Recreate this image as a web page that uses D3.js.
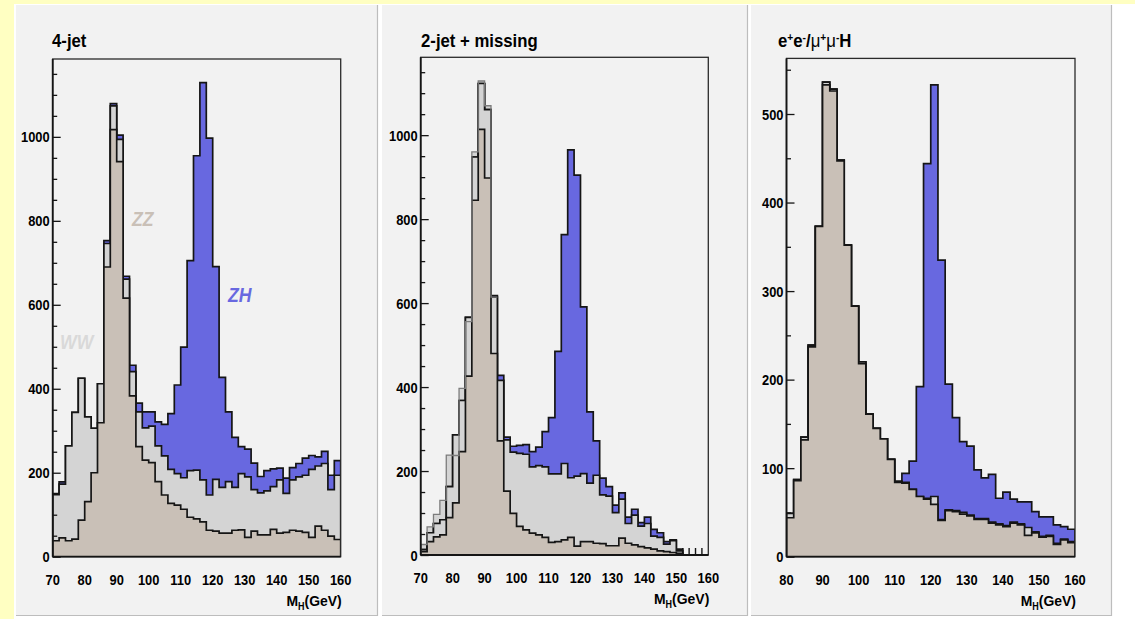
<!DOCTYPE html>
<html>
<head>
<meta charset="utf-8">
<script src="https://cdn.jsdelivr.net/npm/d3@7"></script>
<style>
  html, body { margin: 0; padding: 0; background: #ffffc2; }
  svg { display: block; }
  text { font-family: "Liberation Sans", Arial, sans-serif; font-weight: bold; }
</style>
</head>
<body>
<svg id="chart" width="1135" height="619"></svg>
<script>
// ---- shared binning ----
const binWidth = 2; // GeV per bin

// ---- 4-jet channel (70-160 GeV) : per-process contributions, stacked ZZ -> WW -> ZH ----
const jet4Range = [70, 160];
const jet4ZZ = [38,45,38,42,87,131,200,319,690,1017,941,616,383,262,230,224,179,147,127,123,113,94,90,83,63,61,56,56,63,64,46,61,52,52,65,56,58,63,61,58,46,73,63,49,41];
const jet4WW = [110,128,226,302,338,202,106,93,56,57,53,45,58,83,77,87,85,93,81,75,75,111,116,100,84,123,109,123,102,134,144,99,100,105,102,127,93,120,129,136,162,143,159,111,153];
const jet4ZH = [2,5,0,0,0,0,0,0,7,5,10,7,15,21,38,34,57,75,133,211,311,500,749,946,850,507,262,166,119,64,66,63,39,48,42,28,36,29,32,41,33,22,29,34,35];

// ---- 2-jet + missing channel (70-160 GeV) ----
const missRange = [70, 160];
const missZZ = [8,32,43,48,89,124,246,426,845,1014,898,480,272,152,99,68,60,52,48,42,30,32,36,42,21,32,32,28,27,22,22,40,28,24,20,17,14,10,8,6,4,0,0,0,0];
const missWW = [5,21,32,36,74,162,122,140,103,109,163,134,144,122,146,174,180,158,165,168,163,161,182,142,167,162,139,162,116,118,79,93,47,71,49,58,31,32,18,28,6,0,0,0,0];
const missZH = [0,0,0,0,0,0,0,0,0,0,0,4,12,7,14,19,23,36,44,84,134,292,545,781,717,397,170,82,40,23,18,15,15,14,8,15,16,11,6,2,4,0,0,0,0];
// second background sum in the low-mass bins (70-94 GeV), drawn with a grey outline
const missAltSum = [25,67,97,130,238,237,397,556,960,1129,1070,614];

// ---- e+e- / mu+mu- H channel (80-160 GeV) ----
const llRange = [80, 160];
const llZZ = [44,86,132,237,373,533,526,447,352,283,218,161,145,133,110,84,83,76,68,65,59,41,52,51,48,46,42,42,38,36,34,38,36,24,27,22,23,14,19,16];
const llWW = [5,1,3,2,0,3,2,1,0,0,2,0,0,0,0,1,1,0,0,1,9,1,1,1,2,1,1,1,1,1,1,1,1,9,1,1,1,1,1,1];
const llZH = [0,0,0,0,0,0,0,0,0,0,0,0,0,0,0,0,10,32,124,378,465,293,142,105,80,78,55,46,54,29,38,26,25,29,23,22,21,21,14,14];

// ---- axis labels ----
const xTicksWide = [70, 80, 90, 100, 110, 120, 130, 140, 150, 160];
const xTicksLL = [80, 90, 100, 110, 120, 130, 140, 150, 160];
const yTicksJet = [0, 200, 400, 600, 800, 1000];
const yTicksLL = [0, 100, 200, 300, 400, 500];
const minorStep = 50;

// ---- colours ----
const colZZ = "#c9c0b7";
const colWW = "#d4d4d4";
const colZH = "#6868e0";
const colWWLabel = "#d9d9d9";
const colLine = "#151515";
const squeeze = 0.86;

const svg = d3.select("#chart");

// pad backgrounds
svg.append("rect").attr("x", 14).attr("y", 4).attr("width", 1121).attr("height", 615).attr("fill", "#ffffff");
const pads = [
  { x: 16, w: 362 },
  { x: 382, w: 366 },
  { x: 751, w: 361 }
];
pads.forEach(p => {
  svg.append("rect").attr("x", p.x).attr("y", 5).attr("width", p.w).attr("height", 611).attr("fill", "#f2f2f2");
  svg.append("line").attr("x1", p.x + p.w - 0.5).attr("x2", p.x + p.w - 0.5).attr("y1", 5).attr("y2", 616)
    .attr("stroke", "#bdbdbd").attr("stroke-width", 1.2);
  svg.append("line").attr("x1", p.x).attr("x2", p.x + p.w).attr("y1", 615.5).attr("y2", 615.5)
    .attr("stroke", "#bdbdbd").attr("stroke-width", 1.2);
});

function squeezedText(g, x, y, size, sq) {
  return g.append("text")
    .attr("transform", `translate(${x},${y}) scale(${sq || squeeze},1)`)
    .attr("font-size", size);
}

function stepPoints(vals, lo) {
  const pts = vals.map((v, i) => [lo + i * binWidth, v]);
  pts.push([lo + vals.length * binWidth, vals[vals.length - 1]]);
  return pts;
}

function cumulative(layers) {
  const out = [];
  let run = layers[0].map(() => 0);
  layers.forEach(l => {
    run = run.map((r, i) => r + l[i]);
    out.push(run.slice());
  });
  return out;
}

function drawPanel(cfg) {
  const g = svg.append("g");
  const x = d3.scaleLinear().domain(cfg.range).range([cfg.left, cfg.right]);
  const [sZZ, sWW, sAll] = cumulative([cfg.zz, cfg.ww, cfg.zh]);
  const peak = d3.max([...sAll, ...(cfg.alt || [])]);
  const y = d3.scaleLinear().domain([0, peak * 1.05]).range([cfg.bottom, cfg.top]);

  const clipId = "clip" + cfg.id;
  svg.append("clipPath").attr("id", clipId).append("rect")
    .attr("x", cfg.left).attr("y", cfg.top)
    .attr("width", cfg.right - cfg.left).attr("height", cfg.bottom - cfg.top);
  const plot = g.append("g").attr("clip-path", `url(#${clipId})`);

  const area = d3.area().x(d => x(d[0])).y0(y(0)).y1(d => y(d[1])).curve(d3.curveStepAfter);
  const line = d3.line().x(d => x(d[0])).y(d => y(d[1])).curve(d3.curveStepAfter);
  const outline = (vals) => {
    const pts = stepPoints(vals, cfg.range[0]);
    return [[cfg.range[0], 0], ...pts, [pts[pts.length - 1][0], 0]];
  };

  if (cfg.alt) {
    plot.append("path").attr("d", area(stepPoints(cfg.alt, cfg.range[0]))).attr("fill", colWW);
  }
  [[sAll, colZH], [sWW, colWW], [sZZ, colZZ]].forEach(([vals, col]) => {
    plot.append("path").attr("d", area(stepPoints(vals, cfg.range[0]))).attr("fill", col);
    plot.append("path").attr("d", line(outline(vals)))
      .attr("fill", "none").attr("stroke", colLine).attr("stroke-width", 1.7);
  });
  if (cfg.alt) {
    plot.append("path").attr("d", line([[cfg.range[0], 0], ...stepPoints(cfg.alt, cfg.range[0])]))
      .attr("fill", "none").attr("stroke", "#7c7c7c").attr("stroke-width", 1.3);
  }
  // short edge marks for empty bins
  sAll.forEach((v, i) => {
    if (v === 0) {
      const xe = x(cfg.range[0] + i * binWidth);
      plot.append("line").attr("x1", xe).attr("x2", xe).attr("y1", y(0)).attr("y2", y(0) - 7)
        .attr("stroke", colLine).attr("stroke-width", 1.4);
    }
  });

  // frame
  g.append("rect").attr("x", cfg.left).attr("y", cfg.top)
    .attr("width", cfg.right - cfg.left).attr("height", cfg.bottom - cfg.top)
    .attr("fill", "none").attr("stroke", "#2a2a2a").attr("stroke-width", 1.3);
  g.append("line").attr("x1", cfg.left).attr("x2", cfg.left).attr("y1", cfg.top).attr("y2", cfg.bottom)
    .attr("stroke", colLine).attr("stroke-width", 1.8);
  g.append("line").attr("x1", cfg.left).attr("x2", cfg.right).attr("y1", cfg.bottom).attr("y2", cfg.bottom)
    .attr("stroke", colLine).attr("stroke-width", 1.8);

  // y ticks (inward)
  const yMax = peak * 1.05;
  const minor = d3.range(0, yMax, minorStep).filter(v => !cfg.yTicks.includes(v));
  const minorAxis = g.append("g").attr("transform", `translate(${cfg.left},0)`)
    .call(d3.axisRight(y).tickValues(minor).tickSize(4.5).tickFormat(""));
  const majorAxis = g.append("g").attr("transform", `translate(${cfg.left},0)`)
    .call(d3.axisRight(y).tickValues(cfg.yTicks).tickSize(8).tickFormat(""));
  [minorAxis, majorAxis].forEach(a => {
    a.select(".domain").remove();
    a.selectAll("line").attr("stroke", colLine).attr("stroke-width", 1.3);
  });

  cfg.yTicks.forEach(v => {
    squeezedText(g, cfg.left - 3, y(v) + 5.5, 15).attr("text-anchor", "end").attr("fill", "#000").text(v);
  });
  cfg.xTicks.forEach(v => {
    squeezedText(g, x(v), cfg.bottom + 28, 15).attr("text-anchor", "middle").attr("fill", "#000").text(v);
  });

  // axis title M_H(GeV)
  const t = squeezedText(g, cfg.right + 1, cfg.bottom + 49, 15.5, 0.9).attr("text-anchor", "end").attr("fill", "#000");
  t.append("tspan").text("M");
  t.append("tspan").attr("font-size", 10).attr("dy", 4).text("H");
  t.append("tspan").attr("dy", -4).text("(GeV)");

  // channel title
  const title = squeezedText(g, cfg.titleX, 47, 18, 0.93).attr("fill", "#000");
  cfg.title.forEach(part => {
    const ts = title.append("tspan").text(part.t);
    if (part.sup) ts.attr("font-size", 11).attr("baseline-shift", "super");
    if (part.mu) ts.attr("font-weight", "normal");
  });

  (cfg.labels || []).forEach(l => {
    squeezedText(g, l.x, l.y, 21, 0.84).attr("font-style", "italic").attr("fill", l.color).text(l.text);
  });
}

drawPanel({
  id: 1, range: jet4Range, zz: jet4ZZ, ww: jet4WW, zh: jet4ZH,
  left: 52.7, right: 340.7, top: 59, bottom: 556.7,
  xTicks: xTicksWide, yTicks: yTicksJet, titleX: 52,
  title: [{ t: "4-jet" }],
  labels: [
    { text: "WW", x: 60, y: 349, color: colWWLabel },
    { text: "ZZ", x: 132, y: 226, color: colZZ },
    { text: "ZH", x: 228, y: 302, color: colZH }
  ]
});

drawPanel({
  id: 2, range: missRange, zz: missZZ, ww: missWW, zh: missZH, alt: missAltSum,
  left: 420.7, right: 708.3, top: 57.3, bottom: 555,
  xTicks: xTicksWide, yTicks: yTicksJet, titleX: 421,
  title: [{ t: "2-jet + missing" }]
});

drawPanel({
  id: 3, range: llRange, zz: llZZ, ww: llWW, zh: llZH,
  left: 786.5, right: 1075, top: 58.4, bottom: 556.7,
  xTicks: xTicksLL, yTicks: yTicksLL, titleX: 778,
  title: [
    { t: "e" }, { t: "+", sup: true }, { t: "e" }, { t: "-", sup: true },
    { t: "/" }, { t: "\u03bc", mu: true }, { t: "+", sup: true },
    { t: "\u03bc", mu: true }, { t: "-", sup: true }, { t: "H" }
  ]
});
</script>
</body>
</html>
